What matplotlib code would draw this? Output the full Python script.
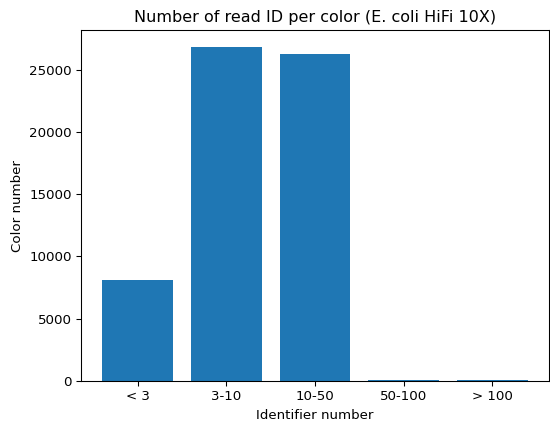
import matplotlib
matplotlib.use("Agg")
import matplotlib.pyplot as plt

categories = ["< 3", "3-10", "10-50", "50-100", "> 100"]
counts = [8100, 26850, 26300, 110, 100]

DPI = 96
fig, ax = plt.subplots(figsize=(550 / DPI, 427 / DPI), dpi=DPI)
ax.bar(categories, counts, color="#1f77b4")
ax.set_title("Number of read ID per color (E. coli HiFi 10X)")
ax.set_xlabel("Identifier number")
ax.set_ylabel("Color number")
fig.subplots_adjust(left=81 / 550, right=549 / 550, top=1 - 30 / 427, bottom=1 - 381 / 427)
fig.savefig("out.png", dpi=DPI)
